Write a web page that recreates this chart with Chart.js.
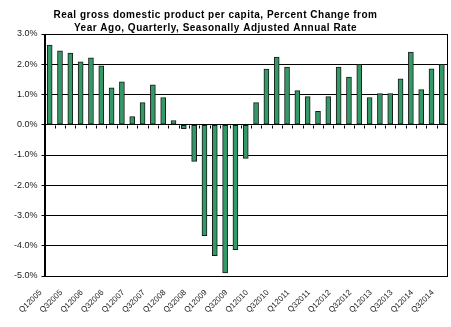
<!DOCTYPE html>
<html>
<head>
<meta charset="utf-8">
<script src="https://cdn.jsdelivr.net/npm/chart.js@4/dist/chart.umd.min.js"></script>
<style>
  html, body { margin: 0; padding: 0; background: #fff; }
  #wrap { width: 451px; height: 327px; }
</style>
</head>
<body>
<div id="wrap"><canvas id="gdpChart" width="451" height="327"></canvas></div>
<script>
var quarters = [
    'Q12005', 'Q22005', 'Q32005', 'Q42005',
    'Q12006', 'Q22006', 'Q32006', 'Q42006',
    'Q12007', 'Q22007', 'Q32007', 'Q42007',
    'Q12008', 'Q22008', 'Q32008', 'Q42008',
    'Q12009', 'Q22009', 'Q32009', 'Q42009',
    'Q12010', 'Q22010', 'Q32010', 'Q42010',
    'Q12011', 'Q22011', 'Q32011', 'Q42011',
    'Q12012', 'Q22012', 'Q32012', 'Q42012',
    'Q12013', 'Q22013', 'Q32013', 'Q42013',
    'Q12014', 'Q22014', 'Q32014'
];

// percent change from year ago
var pctChange = [
    2.63, 2.44, 2.37, 2.08,
    2.21, 1.95, 1.22, 1.42,
    0.27, 0.73, 1.32, 0.90,
    0.14, -0.13, -1.21, -3.67,
    -4.33, -4.90, -4.13, -1.11,
    0.73, 1.84, 2.24, 1.91,
    1.13, 0.93, 0.44, 0.93,
    1.91, 1.58, 2.00, 0.90,
    1.03, 1.03, 1.52, 2.40,
    1.16, 1.85, 2.00
];

var yTicks = [3, 2, 1, 0, -1, -2, -3, -4, -5];

var titleLines = [
    'Real gross domestic product per capita, Percent Change from',
    'Year Ago, Quarterly, Seasonally Adjusted Annual Rate'
];

var FONT = 'Liberation Sans, Arial, sans-serif';

// title drawn with wider letter spacing and nudged a bit left,
// box around the plot area + small tick marks on the zero line
var plotFrame = {
    id: 'plotFrame',
    afterLayout: function(chart) {
        var tb = chart.titleBlock;
        tb.right -= 26;
        if (!tb._spaced) {
            var origDraw = tb.draw;
            tb.draw = function() {
                var c = this.ctx;
                c.save();
                c.letterSpacing = '0.5px';
                origDraw.apply(this, arguments);
                c.restore();
            };
            tb._spaced = true;
        }
    },
    afterDatasetsDraw: function(chart) {
        var ctx = chart.ctx;
        var area = chart.chartArea;
        var x = chart.scales.x;
        var y0 = Math.round(chart.scales.y.getPixelForValue(0)) + 0.5;
        var half = (x.getPixelForValue(1) - x.getPixelForValue(0)) / 2;
        ctx.save();
        ctx.strokeStyle = '#000';
        ctx.lineWidth = 1;
        ctx.strokeRect(Math.round(area.left) + 0.5, Math.round(area.top) + 0.5,
            Math.round(area.right - area.left), Math.round(area.bottom - area.top));
        ctx.beginPath();
        for (var i = 0; i <= quarters.length; i++) {
            var px = Math.round(x.getPixelForValue(i) - half) + 0.5;
            ctx.moveTo(px, y0);
            ctx.lineTo(px, y0 + 3);
        }
        ctx.stroke();
        ctx.restore();
    }
};

var ctx = document.getElementById('gdpChart').getContext('2d');
var myChart = new Chart(ctx, {
    type: 'bar',
    data: {
        labels: quarters,
        datasets: [{
            label: 'Percent Change',
            data: pctChange,
            backgroundColor: '#339966',
            borderColor: '#1a1a1a',
            borderWidth: 1,
            borderSkipped: false,
            barThickness: 5
        }]
    },
    options: {
        responsive: false,
        animation: false,
        layout: {
            padding: { left: 10, right: 4, top: 0, bottom: 0 }
        },
        plugins: {
            legend: { display: false },
            tooltip: { enabled: false },
            title: {
                display: true,
                text: titleLines,
                color: '#000',
                font: { family: FONT, size: 10, weight: 'bold', lineHeight: 1.25 },
                padding: { top: 9, bottom: 0 }
            }
        },
        scales: {
            x: {
                grid: { display: false },
                border: { display: true, color: '#000', width: 1 },
                afterFit: function(scale) {
                    scale.height = 51;
                    scale.paddingRight = 0;
                },
                ticks: {
                    autoSkip: false,
                    maxRotation: 45,
                    minRotation: 45,
                    padding: 4,
                    labelOffset: -9,
                    color: '#222',
                    font: { family: FONT, size: 8 },
                    callback: function(value, index) {
                        return index % 2 === 0 ? quarters[index] : '';
                    }
                }
            },
            y: {
                min: -5,
                max: 3,
                afterBuildTicks: function(scale) {
                    scale.ticks = yTicks.map(function(v) { return { value: v }; });
                },
                grid: { color: '#000', lineWidth: 1, tickLength: 3 },
                border: { display: true, color: '#000', width: 1 },
                ticks: {
                    padding: 4,
                    color: '#222',
                    font: { family: FONT, size: 9 },
                    callback: function(value) {
                        return value.toFixed(1) + '%';
                    }
                }
            }
        }
    },
    plugins: [plotFrame]
});
</script>
</body>
</html>
